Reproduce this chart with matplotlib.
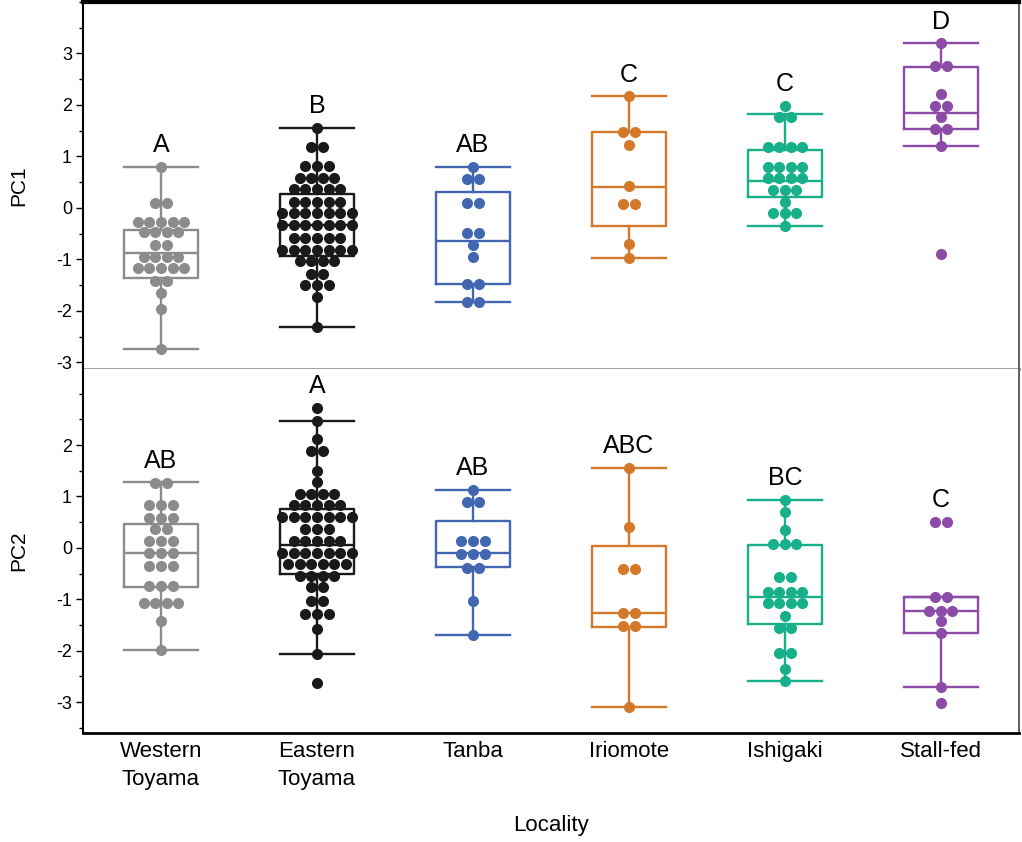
import matplotlib
matplotlib.use("Agg")
import matplotlib.pyplot as plt
from matplotlib.ticker import MultipleLocator

localities = ["Western\nToyama", "Eastern\nToyama", "Tanba", "Iriomote", "Ishigaki", "Stall-fed"]
colors = ["#8c8c8c", "#1a1a1a", "#4267b2", "#d4782a", "#17b08a", "#8b4ba6"]

# points (repeated values = one beeswarm row)
pc1_points = [
    [0.80, 0.09, 0.09, -0.27, -0.27, -0.27, -0.27, -0.27, -0.46, -0.46, -0.46, -0.46,
     -0.73, -0.73, -0.96, -0.96, -0.96, -0.96, -1.17, -1.17, -1.17, -1.17, -1.17,
     -1.42, -1.42, -1.65, -1.97, -2.74],
    [1.56, 1.19, 1.19, 0.82, 0.82, 0.82, 0.59, 0.59, 0.59, 0.59, 0.36, 0.36, 0.36, 0.36, 0.36,
     0.12, 0.12, 0.12, 0.12, 0.12, -0.10, -0.10, -0.10, -0.10, -0.10, -0.10, -0.10,
     -0.33, -0.33, -0.33, -0.33, -0.33, -0.33, -0.33, -0.58, -0.58, -0.58, -0.58, -0.58,
     -0.82, -0.82, -0.82, -0.82, -0.82, -0.82, -0.82, -1.04, -1.04, -1.04, -1.04,
     -1.28, -1.28, -1.50, -1.50, -1.50, -1.73, -2.32],
    [0.80, 0.56, 0.56, 0.09, 0.09, -0.49, -0.49, -0.73, -0.95, -1.48, -1.48, -1.82, -1.82],
    [2.17, 1.47, 1.47, 1.23, 0.43, 0.08, 0.08, -0.71, -0.98],
    [1.98, 1.76, 1.76, 1.19, 1.19, 1.19, 1.19, 0.80, 0.80, 0.80, 0.80, 0.58, 0.58, 0.58, 0.58,
     0.34, 0.34, 0.34, 0.12, -0.10, -0.10, -0.10, -0.35],
    [3.20, 2.75, 2.75, 2.21, 1.98, 1.98, 1.76, 1.53, 1.53, 1.21, -0.90],
]
pc2_points = [
    [1.27, 1.27, 0.84, 0.84, 0.84, 0.59, 0.59, 0.59, 0.37, 0.37, 0.14, 0.14, 0.14,
     -0.09, -0.09, -0.09, -0.36, -0.36, -0.36, -0.75, -0.75, -0.75,
     -1.08, -1.08, -1.08, -1.08, -1.43, -1.98],
    [2.73, 2.46, 2.12, 1.89, 1.89, 1.50, 1.28, 1.05, 1.05, 1.05, 1.05, 0.84, 0.84, 0.84, 0.84, 0.84,
     0.60, 0.60, 0.60, 0.60, 0.60, 0.60, 0.60, 0.37, 0.37, 0.37, 0.14, 0.14, 0.14, 0.14, 0.14,
     -0.10, -0.10, -0.10, -0.10, -0.10, -0.10, -0.10, -0.32, -0.32, -0.32, -0.32, -0.32, -0.32,
     -0.54, -0.54, -0.54, -0.54, -0.77, -0.77, -1.03, -1.03, -1.28, -1.28, -1.28,
     -1.58, -2.06, -2.62],
    [1.13, 0.90, 0.90, 0.14, 0.14, 0.14, -0.12, -0.12, -0.12, -0.40, -0.40, -1.03, -1.69],
    [1.56, 0.41, -0.41, -0.41, -1.27, -1.27, -1.51, -1.51, -3.09],
    [0.93, 0.69, 0.35, 0.08, 0.08, 0.08, -0.57, -0.57, -0.86, -0.86, -0.86, -0.86,
     -1.08, -1.08, -1.08, -1.08, -1.32, -1.55, -1.55, -2.05, -2.05, -2.36, -2.59],
    [0.51, 0.51, -0.96, -0.96, -1.22, -1.22, -1.22, -1.43, -1.66, -2.71, -3.01],
]

# box statistics: upper whisker, Q3, median, Q1, lower whisker
pc1_whishi = [0.80, 1.56, 0.80, 2.17, 1.82, 3.20]
pc1_q3 = [-0.43, 0.27, 0.30, 1.47, 1.13, 2.74]
pc1_med = [-0.88, -0.33, -0.65, 0.40, 0.53, 1.85]
pc1_q1 = [-1.37, -0.93, -1.48, -0.35, 0.22, 1.53]
pc1_whislo = [-2.74, -2.32, -1.83, -0.98, -0.35, 1.21]

pc2_whishi = [1.28, 2.46, 1.13, 1.56, 0.93, -0.96]
pc2_q3 = [0.47, 0.75, 0.53, 0.03, 0.06, -0.96]
pc2_med = [-0.09, 0.06, -0.09, -1.27, -0.96, -1.23]
pc2_q1 = [-0.77, -0.51, -0.38, -1.54, -1.48, -1.65]
pc2_whislo = [-1.98, -2.06, -1.69, -3.09, -2.59, -2.71]

pc1_letters = ["A", "B", "AB", "C", "C", "D"]
pc2_letters = ["AB", "A", "AB", "ABC", "BC", "C"]

plt.rcParams["font.family"] = ["Liberation Sans", "DejaVu Sans"]
plt.rcParams["axes.unicode_minus"] = False

fig = plt.figure(figsize=(10.22, 8.42), dpi=100)
ax1 = fig.add_axes([0.0812, 0.5618, 0.9158, 0.4358])
ax2 = fig.add_axes([0.0812, 0.1295, 0.9158, 0.4323])


def draw_panel(ax, points, whishi, q3, med, q1, whislo, letters, ylim, ylabel):
    width = 0.47
    dx = 0.074
    for i, vals in enumerate(points):
        c = colors[i]
        stats = [dict(whishi=whishi[i], q3=q3[i], med=med[i], q1=q1[i], whislo=whislo[i])]
        lp = dict(color=c, linewidth=1.7)
        ax.bxp(stats, positions=[i], widths=width, capwidths=width, showfliers=False,
               boxprops=lp, whiskerprops=lp, capprops=lp, medianprops=lp,
               manage_ticks=False)
        # beeswarm: equal values laid side by side
        xs, ys = [], []
        for v in sorted(set(vals), reverse=True):
            n = vals.count(v)
            for k in range(n):
                xs.append(i + (k - (n - 1) / 2) * dx)
                ys.append(v)
        ax.scatter(xs, ys, s=64, color=c, zorder=3, linewidths=0)
        ax.text(i, max(vals) + 0.42, letters[i], ha="center", va="center",
                fontsize=18, color="black")
    ax.set_xlim(-0.5, 5.5)
    ax.set_ylim(*ylim)
    ax.yaxis.set_major_locator(MultipleLocator(1))
    ax.yaxis.set_minor_locator(MultipleLocator(0.5))
    ax.tick_params(axis="y", which="major", length=5, width=1.0, labelsize=13, pad=3)
    ax.tick_params(axis="y", which="minor", length=3, width=1.0)
    ax.set_ylabel(ylabel, fontsize=15, labelpad=20)


draw_panel(ax1, pc1_points, pc1_whishi, pc1_q3, pc1_med, pc1_q1, pc1_whislo,
           pc1_letters, (-3.13, 4.0), "PC1")
draw_panel(ax2, pc2_points, pc2_whishi, pc2_q3, pc2_med, pc2_q1, pc2_whislo,
           pc2_letters, (-3.6, 3.48), "PC2")

ax1.set_yticks([-3, -2, -1, 0, 1, 2, 3])
ax2.set_yticks([-3, -2, -1, 0, 1, 2])
ax2.set_ylim(-3.6, 3.48)
ax1.set_ylim(-3.13, 4.0)

ax1.tick_params(axis="x", bottom=False, labelbottom=False)
ax2.set_xticks(range(len(localities)))
ax2.set_xticklabels(localities, fontsize=16, linespacing=1.4, va="top")
ax2.tick_params(axis="x", length=0, pad=6)
ax2.set_xlabel("Locality", fontsize=16, labelpad=18)

for ax in (ax1, ax2):
    ax.spines["left"].set_linewidth(1.5)
    ax.spines["right"].set_color("#444444")
    ax.spines["right"].set_linewidth(1.2)
ax1.spines["top"].set_linewidth(3)
ax1.spines["bottom"].set_color("#999999")
ax1.spines["bottom"].set_linewidth(2)
ax2.spines["top"].set_visible(False)
ax2.spines["bottom"].set_linewidth(2)

fig.savefig("out.png", dpi=100)
